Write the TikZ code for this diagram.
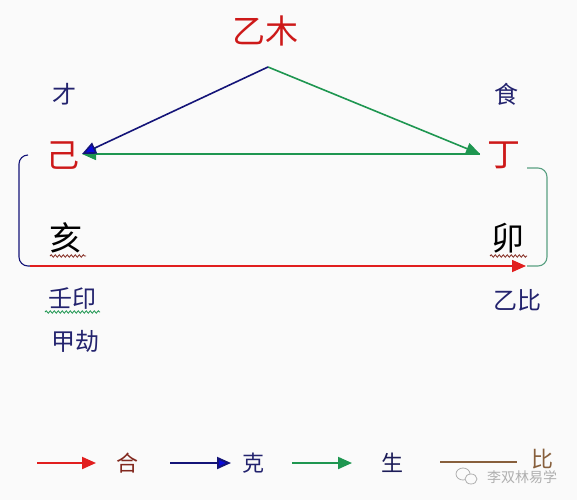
\documentclass[tikz,border=0pt]{standalone}
\usepackage{fontspec}
\newfontfamily\cjk{Noto Sans CJK SC}
\usetikzlibrary{arrows.meta,decorations.pathmorphing}
\definecolor{bgc}{RGB}{250,250,250}
\definecolor{wred}{RGB}{205,25,25}
\definecolor{lred}{RGB}{225,30,30}
\definecolor{navy}{RGB}{20,20,120}
\definecolor{bblue}{RGB}{10,10,220}
\definecolor{lgreen}{RGB}{30,150,80}
\definecolor{tgreen}{RGB}{90,160,130}
\definecolor{tnavy}{RGB}{35,35,110}
\definecolor{hebrown}{RGB}{130,40,30}
\definecolor{brownl}{RGB}{135,95,60}
\definecolor{wm}{RGB}{175,175,175}
\tikzset{
  big/.style={font=\cjk\fontsize{33}{33}\selectfont, inner sep=0pt},
  mid/.style={font=\cjk\fontsize{24}{24}\selectfont, inner sep=0pt, text=tnavy},
  small/.style={font=\cjk\fontsize{22}{22}\selectfont, inner sep=0pt},
  tip/.style={-{Triangle[length=14pt,width=12pt]}},
  conn/.style={line width=1.6pt},
  leg/.style={line width=2pt},
  wavy/.style={decorate, decoration={snake, amplitude=1.2pt, segment length=4pt}, line width=0.8pt}
}
\begin{document}
\begin{tikzpicture}[x=1pt,y=-1pt]
\fill[bgc] (0,0) rectangle (577,500);
\useasboundingbox (0,0) rectangle (577,500);
% texts
\node[big, text=wred] (yimu) at (265,31) {乙木};
\node[mid] (cai) at (64,94) {才};
\node[mid] (shi) at (506,94) {食};
\node[big, text=wred] (ji) at (63,156) {己};
\node[big, text=wred] (ding) at (504,155) {丁};
\node[big, text=black] (hai) at (66,238) {亥};
\node[big, text=black] (mao) at (508,238) {卯};
\node[mid] (renyin) at (72,299) {壬印};
\node[mid] (jiajie) at (75,341) {甲劫};
\node[mid] (yibi) at (517,300) {乙比};
% coordinates
\coordinate (apex) at (268,67);
\coordinate (jiR) at (82,154);
\coordinate (dingL) at (480,154);
\coordinate (lbT) at (28,155);
\coordinate (lbB) at (32,266);
\coordinate (rbT) at (527,168);
\coordinate (rbB) at (527,266);
\coordinate (redS) at (30,266);
\coordinate (redE) at (526,266);
% wavy underlines
\draw[wavy, draw=hebrown] (50,256) -- (86,256);
\draw[wavy, draw=hebrown] (490,256) -- (527,256);
\draw[wavy, draw=lgreen] (45,312) -- (100,312);
% brackets
\draw[navy, line width=1.1pt, rounded corners=9pt] (lbT) -- (19,155) -- (19,266) -- (lbB);
\draw[tgreen, line width=1.1pt, rounded corners=9pt] (rbT) -- (547,168) -- (547,266) -- (rbB);
% connectors
\draw[conn, lgreen, tip] (dingL) -- (jiR);
\draw[conn, lgreen, tip] (apex) -- (dingL);
\draw[conn, navy, -{Triangle[length=14pt,width=12pt,fill=bblue]}] (apex) -- (jiR);
\draw[conn, lred, tip] (redS) -- (redE);
% legend
\coordinate (l1s) at (37,463); \coordinate (l1e) at (96,463);
\coordinate (l2s) at (170,463); \coordinate (l2e) at (231,463);
\coordinate (l3s) at (292,463); \coordinate (l3e) at (352,463);
\coordinate (l4s) at (440,462); \coordinate (l4e) at (517,462);
\draw[leg, lred, tip] (l1s) -- (l1e);
\draw[leg, navy, -{Triangle[length=14pt,width=12pt,fill=bblue]}] (l2s) -- (l2e);
\draw[leg, lgreen, tip] (l3s) -- (l3e);
\draw[leg, brownl] (l4s) -- (l4e);
\node[small, text=hebrown] (he) at (127,463) {合};
\node[small, text=tnavy] (ke) at (253,463) {克};
\node[small, text=tnavy!80!black] (sheng) at (392,463) {生};
\node[small, text=brownl] (bi) at (542,459) {比};
% watermark
\draw[wm, line width=0.8pt] (463,474) ellipse (7pt and 6pt);
\draw[wm, line width=0.8pt, fill=bgc] (471,479) ellipse (6pt and 5pt);
\node[font=\cjk\fontsize{14}{14}\selectfont, text=wm, inner sep=0pt] (wmt) at (522,477) {李双林易学};
\end{tikzpicture}
\end{document}
